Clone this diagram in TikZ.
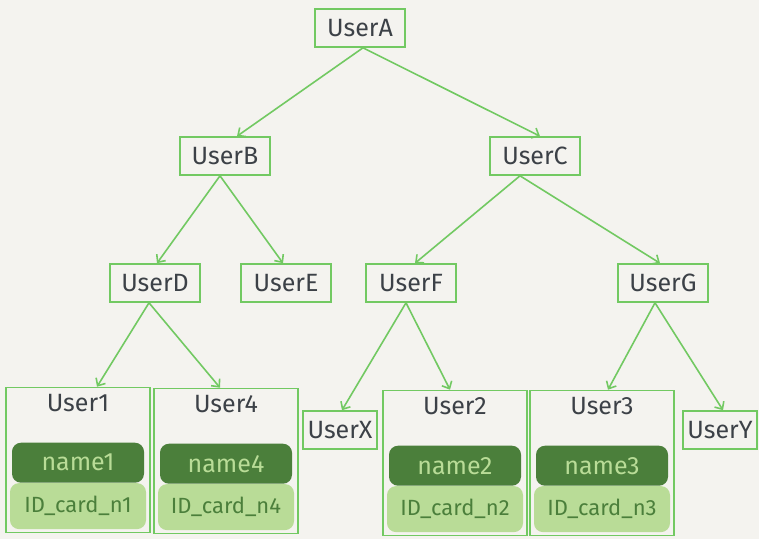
\documentclass[tikz,border=0pt]{standalone}
\usepackage{fontspec}
\setmainfont{Fira Sans}
\usepackage{tikz}
\usetikzlibrary{shapes,arrows,arrows.meta, positioning}
\definecolor{lgreen}{HTML}{72C962}
\definecolor{dgreen}{HTML}{4B7F3B}
\definecolor{pgreen}{HTML}{B9DC97}
\definecolor{ink}{HTML}{3C4147}
\definecolor{paper}{HTML}{F4F3EF}
\tikzstyle{unode} = [draw=lgreen, line width=1.6pt, minimum width=90pt, minimum height=38pt, inner sep=0pt, text=ink, font=\fontsize{25}{27}\selectfont]
\tikzstyle{snode} = [unode, minimum width=74pt]
\tikzstyle{leaf} = [draw=lgreen, line width=1.6pt, minimum width=144pt, minimum height=145pt, inner sep=0pt]
\tikzstyle{ltitle} = [text=ink, font=\fontsize{25}{27}\selectfont]
\tikzstyle{namepill} = [fill=dgreen, rounded corners=9pt, minimum width=132pt, minimum height=40pt, inner sep=0pt, text=pgreen, font=\fontsize{25}{27}\selectfont]
\tikzstyle{idpill} = [fill=pgreen, rounded corners=9pt, minimum width=136pt, minimum height=46pt, inner sep=0pt, text=dgreen, font=\fontsize{22}{24}\selectfont]
\tikzstyle{line} = [draw=lgreen, line width=1.6pt, -{Straight Barb[length=6pt, width=11pt]}]

\begin{document}
\begin{tikzpicture}[x=1pt, y=-1pt]
			\fill [paper] (0, 0) rectangle (759, 539);
			\useasboundingbox (0, 0) rectangle (759, 539);
			
			\node [unode] (A) at (360, 28) {UserA};
			\node [unode] (B) at (225, 156) {UserB};
			\node [unode] (C) at (535, 156) {UserC};
			\node [unode] (D) at (155, 283) {UserD};
			\node [unode] (E) at (286, 283) {UserE};
			\node [unode] (F) at (411, 283) {UserF};
			\node [unode] (G) at (663, 283) {UserG};
			\node [snode] (X) at (340, 430) {UserX};
			\node [snode] (Y) at (720, 430) {UserY};
			
			% leaf pages
			\node [leaf] (u1) at (78, 460) {};
			\node [leaf] (u4) at (226, 461) {};
			\node [leaf] (u2) at (455, 463) {};
			\node [leaf] (u3) at (602, 463) {};
			
			\node [ltitle, below=4pt of u1.north] (t1) {User1};
			\node [ltitle, below=4pt of u4.north] (t4) {User4};
			\node [ltitle, below=4pt of u2.north] (t2) {User2};
			\node [ltitle, below=4pt of u3.north] (t3) {User3};
			
			\node [idpill, above=4pt of u1.south] (i1) {ID\_card\_n1};
			\node [idpill, above=4pt of u4.south] (i4) {ID\_card\_n4};
			\node [idpill, above=4pt of u2.south] (i2) {ID\_card\_n2};
			\node [idpill, above=4pt of u3.south] (i3) {ID\_card\_n3};
			
			\node [namepill, above=0pt of i1] (n1) {name1};
			\node [namepill, above=0pt of i4] (n4) {name4};
			\node [namepill, above=0pt of i2] (n2) {name2};
			\node [namepill, above=0pt of i3] (n3) {name3};
			
			\path [line] ([xshift=3pt]A.south) -- ([xshift=12pt]B.north);
			\path [line] ([xshift=3pt]A.south) -- ([xshift=5pt]C.north);
			\path [line] ([xshift=-5pt]B.south) -- ([xshift=2pt]D.north);
			\path [line] ([xshift=-5pt]B.south) -- ([xshift=-3pt]E.north);
			\path [line] ([xshift=-15pt]C.south) -- ([xshift=4pt]F.north);
			\path [line] ([xshift=-15pt]C.south) -- ([xshift=-3pt]G.north);
			\path [line] ([xshift=-6pt]D.south) -- ([xshift=19pt]u1.north);
			\path [line] ([xshift=-6pt]D.south) -- ([xshift=-6pt]u4.north);
			\path [line] ([xshift=-5pt]F.south) -- ([xshift=2pt]X.north);
			\path [line] ([xshift=-5pt]F.south) -- ([xshift=-5pt]u2.north);
			\path [line] ([xshift=-8pt]G.south) -- ([xshift=6pt]u3.north);
			\path [line] ([xshift=-8pt]G.south) -- ([xshift=3pt]Y.north);
		\end{tikzpicture}
\end{document}
